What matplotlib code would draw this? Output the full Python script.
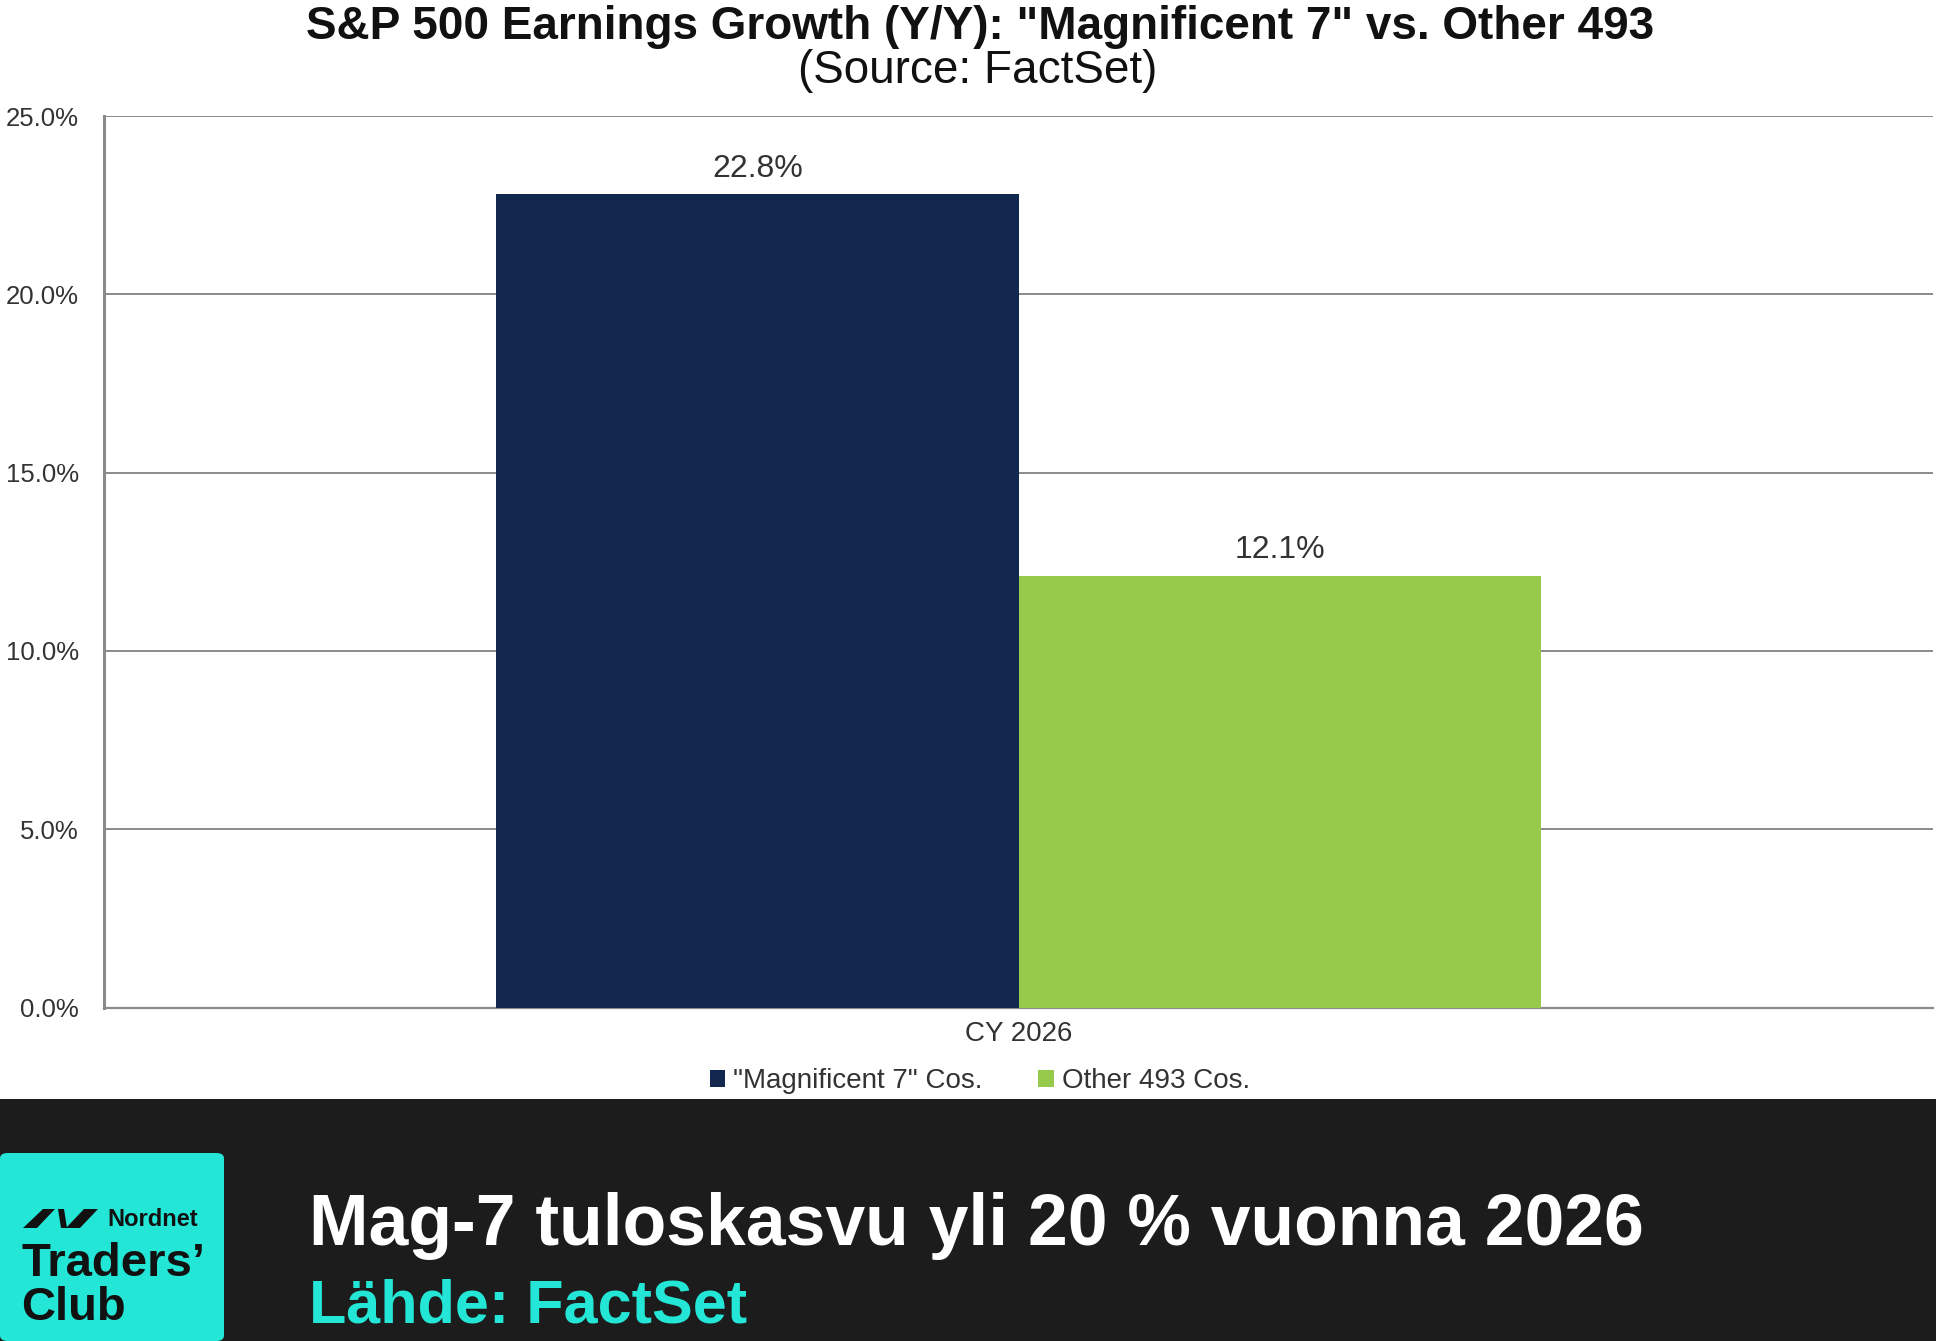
import matplotlib
matplotlib.use("Agg")
import matplotlib.pyplot as plt
from matplotlib.patches import Patch, Rectangle, Polygon, FancyBboxPatch

# ---- data ----
categories = ["CY 2026"]
series_names = ['"Magnificent 7" Cos.', "Other 493 Cos."]
mag7_values = [22.8]
other_values = [12.1]
yticks = [0, 5, 10, 15, 20, 25]
title_line1 = 'S&P 500 Earnings Growth (Y/Y): "Magnificent 7" vs. Other 493'
title_line2 = "(Source: FactSet)"
headline = "Mag-7 tuloskasvu yli 20 % vuonna 2026"
source_text = "Lähde: FactSet"

navy = "#13284f"
green = "#97ca4a"
cyan = "#24e6d6"
dark = "#1c1c1c"

plt.rcParams["font.family"] = ["Liberation Sans", "DejaVu Sans"]

W, H = 1936, 1341
fig = plt.figure(figsize=(W / 100, H / 100), dpi=100)
fig.patch.set_facecolor("white")

def fx(px):
    return px / W

def fy(py_top):
    return 1 - py_top / H

ax = fig.add_axes([fx(104), fy(1007.5), fx(1933 - 104), (1007.5 - 116) / H])
bw = 0.2855
x0 = 0
ax.bar([x0 - bw / 2], mag7_values, width=bw, color=navy, zorder=3)
ax.bar([x0 + bw / 2], other_values, width=bw, color=green, zorder=3)
for xv, v in [(x0 - bw / 2, mag7_values[0]), (x0 + bw / 2, other_values[0])]:
    ax.text(xv, v + 0.3, f"{v:.1f}%", ha="center", va="bottom", fontsize=23, color="#333333")

ax.set_xlim(-0.5, 0.5)
ax.set_ylim(0, 25)
ax.set_yticks(yticks)
ax.set_yticklabels([f"{t:.1f}%" for t in yticks], fontsize=18.5, color="#333333")
ax.set_xticks([x0])
ax.set_xticklabels(categories, fontsize=20, color="#333333")
ax.tick_params(axis="y", length=0, pad=18)
ax.tick_params(axis="x", length=0, pad=10)
ax.yaxis.grid(True, color="#8a8a8a", linewidth=1.4, zorder=0)
ax.spines["right"].set_visible(False)
ax.spines["top"].set_visible(False)
ax.spines["left"].set_color("#8a8a8a")
ax.spines["left"].set_linewidth(2.2)
ax.spines["bottom"].set_color("#8a8a8a")
ax.spines["bottom"].set_linewidth(1.6)

# title
fig.text(fx(980), fy(27), title_line1, ha="center", va="center", fontsize=33,
         fontweight="bold", color="#111111")
fig.text(fx(978), fy(71), title_line2, ha="center", va="center", fontsize=33,
         color="#111111")

# legend
handles = [Patch(facecolor=navy), Patch(facecolor=green)]
fig.legend(handles, series_names, loc="center", bbox_to_anchor=(fx(980), fy(1081)),
           ncol=2, frameon=False, fontsize=20, handlelength=0.55, handleheight=0.55,
           handletextpad=0.3, columnspacing=2.0, labelcolor="#333333")

# bottom banner
fig.patches.append(Rectangle((0, 0), 1, (H - 1099) / H, transform=fig.transFigure,
                             facecolor=dark, edgecolor="none", zorder=0))
fig.patches.append(FancyBboxPatch((0, 0), fx(224), (H - 1153) / H,
                                  boxstyle="round,pad=0,rounding_size=0.004",
                                  transform=fig.transFigure, facecolor=cyan,
                                  edgecolor="none", zorder=1))
# Nordnet mark
def quad(bl, br, tr, tl):
    yb, yt = fy(1228), fy(1209)
    return Polygon([(fx(bl), yb), (fx(br), yb), (fx(tr), yt), (fx(tl), yt)],
                   closed=True, transform=fig.transFigure, facecolor="#111111",
                   edgecolor="none", zorder=2)
fig.patches.append(quad(23, 37, 55, 43))
fig.patches.append(quad(61, 67, 64, 58))
fig.patches.append(quad(66, 80, 98, 84))
fig.text(fx(107), fy(1219), "Nordnet", ha="left", va="center", fontsize=17,
         fontweight="bold", color="#111111", zorder=3)
fig.text(fx(21), fy(1264), "Traders’", ha="left", va="center", fontsize=34,
         fontweight="bold", color="#111111", zorder=3)
fig.text(fx(21), fy(1308), "Club", ha="left", va="center", fontsize=34,
         fontweight="bold", color="#111111", zorder=3)

fig.text(fx(309), fy(1226), headline, ha="left", va="center", fontsize=51.5,
         fontweight="bold", color="white", zorder=3)
fig.text(fx(309), fy(1307), source_text, ha="left", va="center", fontsize=44,
         fontweight="bold", color=cyan, zorder=3)

fig.savefig("out.png", dpi=100)
